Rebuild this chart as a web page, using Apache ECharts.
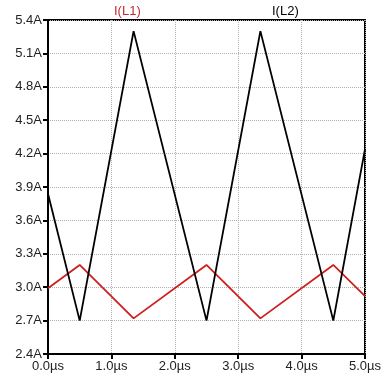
<!DOCTYPE html>
<html><head><meta charset="utf-8">
<script src="https://cdn.jsdelivr.net/npm/echarts@6/dist/echarts.min.js"></script>
<style>html,body{margin:0;padding:0;background:#fff}#c{width:385px;height:382px}</style>
</head><body><div id="c"></div>
<script>
var tL1 = [0, 0.5, 1.35, 2.5, 3.35, 4.5, 5.0];
var vL1 = [2.99, 3.2, 2.72, 3.2, 2.72, 3.2, 2.92];
var tL2 = [0, 0.5, 1.35, 2.5, 3.35, 4.5, 5.0];
var vL2 = [3.84, 2.7, 5.3, 2.7, 5.3, 2.7, 4.24];
var yTicks = ['2.4A','2.7A','3.0A','3.3A','3.6A','3.9A','4.2A','4.5A','4.8A','5.1A','5.4A'];
var xTicks = ['0.0µs','1.0µs','2.0µs','3.0µs','4.0µs','5.0µs'];
function pairs(t, v){ return t.map(function(x,i){return [x, v[i]];}); }
var chart = echarts.init(document.getElementById('c'));
var font = 'Liberation Sans, Arial, sans-serif';
chart.setOption({
  animation:false,
  grid:{left:48,right:20,top:20,bottom:28,show:true,borderColor:'#000',borderWidth:2,backgroundColor:'transparent'},
  xAxis:{type:'value',min:0,max:5,interval:1,
    axisLine:{show:true,lineStyle:{color:'#000',width:2}},
    axisTick:{show:true,length:5,lineStyle:{color:'#000',width:2}},
    axisLabel:{color:'#222',fontSize:13,fontFamily:font,margin:6,formatter:function(v){return xTicks[Math.round(v)];}},
    splitLine:{show:true,lineStyle:{color:'#b0b0b0',type:'dotted',width:1}}},
  yAxis:{type:'value',min:2.4,max:5.4,interval:0.3,
    axisLine:{show:true,lineStyle:{color:'#000',width:2}},
    axisTick:{show:true,length:5,lineStyle:{color:'#000',width:2}},
    axisLabel:{color:'#222',fontSize:13,fontFamily:font,margin:6,formatter:function(v){return yTicks[Math.round((v-2.4)/0.3)];}},
    splitLine:{show:true,lineStyle:{color:'#b0b0b0',type:'dotted',width:1}}},
  graphic:[
    {type:'text',left:114,top:5,style:{text:'I(L1)',fill:'#c8282f',font:'13px '+font}},
    {type:'text',left:272,top:5,style:{text:'I(L2)',fill:'#000',font:'13px '+font}}
  ],
  series:[
    {name:'I(L1)',type:'line',data:pairs(tL1,vL1),symbol:'none',lineStyle:{color:'#cc1f1f',width:1.8}},
    {name:'I(L2)',type:'line',data:pairs(tL2,vL2),symbol:'none',lineStyle:{color:'#000',width:1.8}}
  ]
});
</script></body></html>
